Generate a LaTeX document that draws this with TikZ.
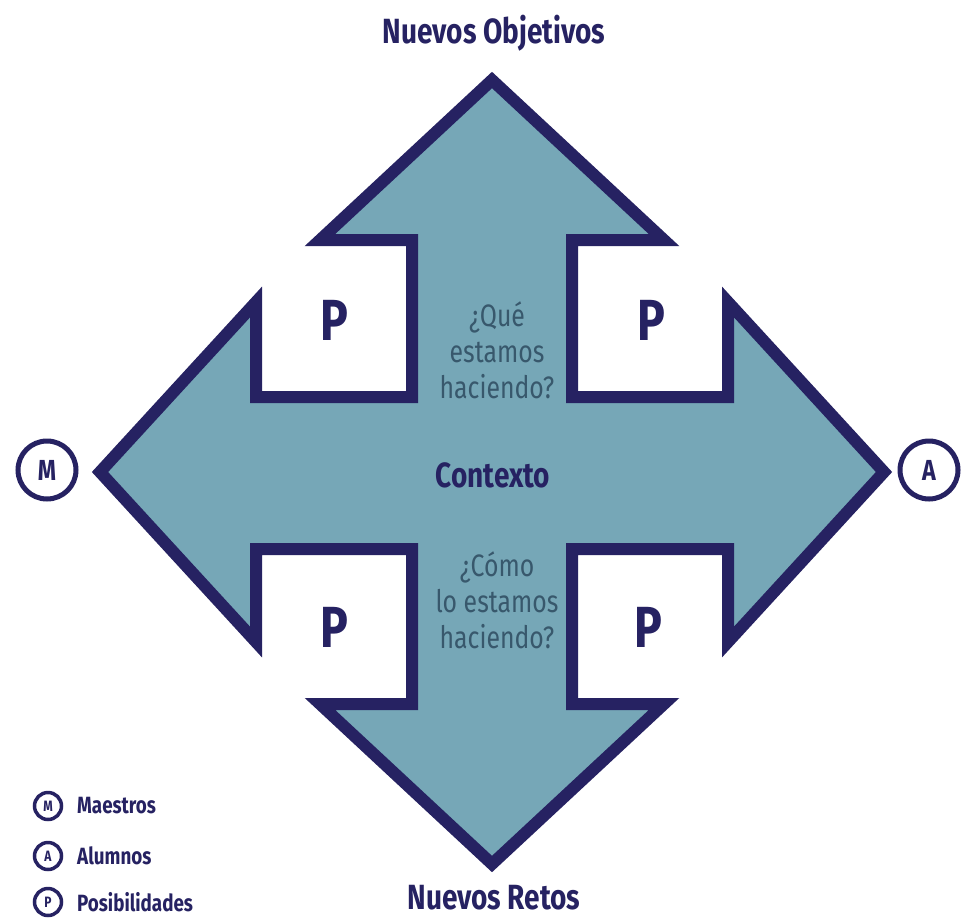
\documentclass[tikz,border=0pt]{standalone}
\usepackage{fontspec}
\setmainfont{Fira Sans}[FakeStretch=0.8]
\newfontfamily\condbold{Fira Sans}[FakeStretch=0.8,UprightFont=* Bold]
\definecolor{navy}{RGB}{38,34,98}
\definecolor{teal}{RGB}{118,167,183}
\definecolor{qtext}{RGB}{56,88,108}
\tikzset{
  arrowshape/.style={draw=navy, fill=teal, line width=12pt, line join=miter, miter limit=10},
  bigcirc/.style={circle, draw=navy, line width=5pt, minimum size=58pt, inner sep=0pt, font=\condbold\fontsize{29}{29}\selectfont, text=navy},
  smallcirc/.style={circle, draw=navy, line width=3.5pt, minimum size=27pt, inner sep=0pt, font=\condbold\fontsize{15}{15}\selectfont, text=navy},
  title/.style={font=\condbold\fontsize{35}{35}\selectfont, text=navy, inner sep=0pt},
  pletter/.style={font=\condbold\fontsize{58}{58}\selectfont, text=navy},
  question/.style={font=\fontsize{31}{36}\selectfont, text=qtext, align=center},
  legendtext/.style={font=\condbold\fontsize{23.5}{23.5}\selectfont, text=navy, anchor=west, inner sep=0pt}
}
\begin{document}
\begin{tikzpicture}[x=1pt,y=-1pt]
\useasboundingbox (0,0) rectangle (961,919);
\fill[white] (0,0) rectangle (961,919);
% cross of arrows
\draw[arrowshape]
  (492,80) -- (664,240) -- (572,240) -- (572,397) -- (728,397) -- (728,302)
  -- (884,472) -- (728,642) -- (728,549) -- (572,549) -- (572,704) -- (664,704)
  -- (492,864) -- (320,704) -- (412,704) -- (412,549) -- (256,549) -- (256,642)
  -- (100,472) -- (256,302) -- (256,397) -- (412,397) -- (412,240) -- (320,240) -- cycle;
% titles
\node[title] (obj) at (494,33) {Nuevos Objetivos};
\node[title] (retos) at (494,898) {Nuevos Retos};
% P boxes
\node[pletter] (p1) at (334,320) {P};
\node[pletter] (p2) at (651,320) {P};
\node[pletter] (p3) at (334,627) {P};
\node[pletter] (p4) at (648,627) {P};
% texts in arrows
\node[question] (q1) at (497,350) {¿Qué\\estamos\\haciendo?};
\node[font=\condbold\fontsize{35}{35}\selectfont, text=navy] (ctx) at (493,475) {Contexto};
\node[question] (q2) at (497,600) {¿Cómo\\lo estamos\\haciendo?};
% side circles
\node[bigcirc] (m) at (47,470) {M};
\node[bigcirc] (a) at (929,470) {A};
% legend
\node[smallcirc] (lm) at (48,806) {M};
\node[smallcirc] (la) at (48,856) {A};
\node[smallcirc] (lp) at (48,902) {P};
\node[legendtext] (tm) at (77,806) {Maestros};
\node[legendtext] (ta) at (77,856) {Alumnos};
\node[legendtext] (tp) at (77,902) {Posibilidades};
\end{tikzpicture}
\end{document}
